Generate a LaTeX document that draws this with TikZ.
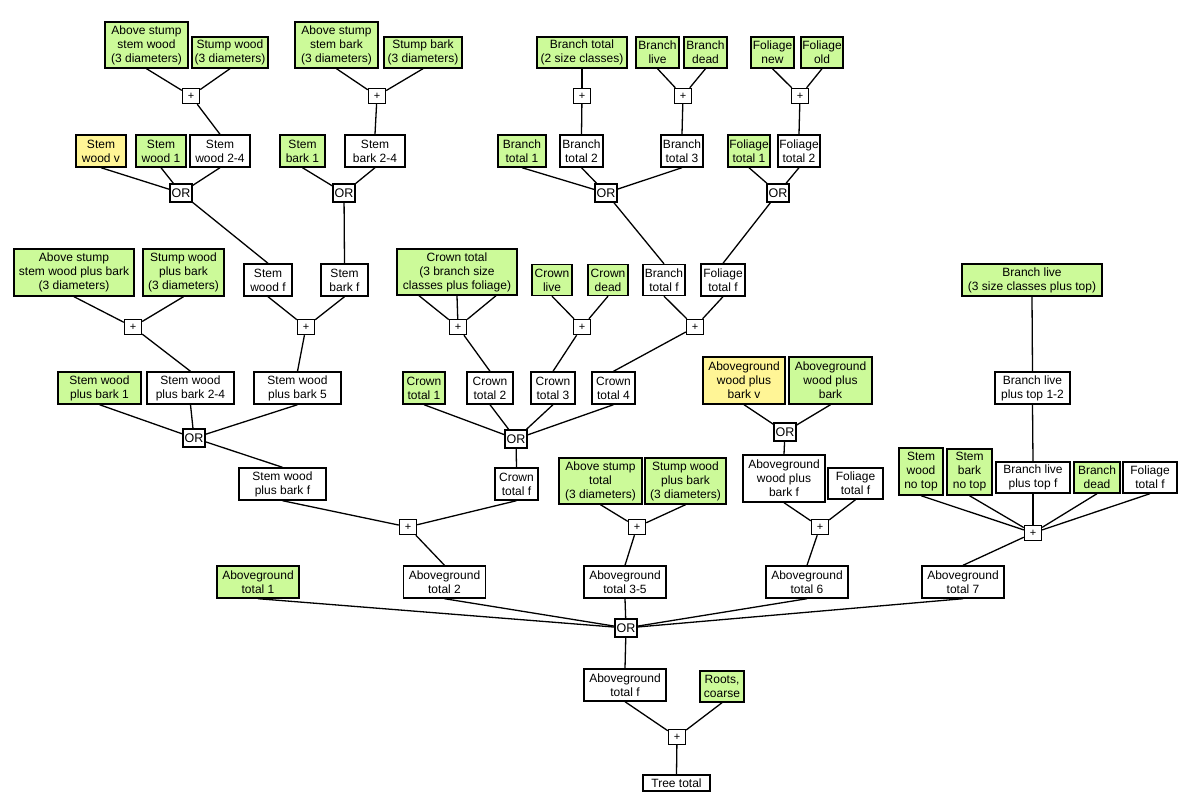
\documentclass[tikz,border=0pt]{standalone}
\usepackage{fontspec}
\setmainfont{Liberation Sans}
\definecolor{lgreen}{RGB}{204,250,153}
\definecolor{lyellow}{RGB}{255,245,150}
\tikzset{
 box/.style={draw=black, line width=1.4pt, align=center, inner sep=0pt, font=\fontsize{12}{14}\selectfont},
 gbox/.style={box, fill=lgreen},
 wbox/.style={box, fill=white},
 ybox/.style={box, fill=lyellow},
 sz/.style 2 args={minimum width=#1pt, minimum height=#2pt},
 opbox/.style={draw=black, line width=1.4pt, fill=white, inner sep=0pt, minimum width=17pt, minimum height=15pt, font=\fontsize{11}{11}\selectfont},
 orbox/.style={opbox, minimum width=22pt, minimum height=18pt, font=\fontsize{12.5}{12.5}\selectfont},
 link/.style={line width=1.3pt},
}
\begin{document}
\begin{tikzpicture}[x=1pt,y=-1pt]
\fill[white] (0,0) rectangle (1200,805);
\useasboundingbox (0,0) rectangle (1200,805);
% top row
\node[gbox, sz={83}{46}] (asw) at (146.5,45) {Above stump\\stem wood\\(3 diameters)};
\node[gbox, sz={76}{31}] (sw) at (230,52.5) {Stump wood\\(3 diameters)};
\node[gbox, sz={83}{46}] (asb) at (336.5,45) {Above stump\\stem bark\\(3 diameters)};
\node[gbox, sz={78}{31}] (sb) at (423,52.5) {Stump bark\\(3 diameters)};
\node[gbox, sz={90}{31}] (bt2s) at (582,52.5) {Branch total\\(2 size classes)};
\node[gbox, sz={43}{31}] (bl) at (657.5,52.5) {Branch\\live};
\node[gbox, sz={43}{31}] (bd) at (705.5,52.5) {Branch\\dead};
\node[gbox, sz={43}{31}] (fn) at (772.5,52.5) {Foliage\\new};
\node[gbox, sz={42}{31}] (fo) at (822,52.5) {Foliage\\old};
% + row 1
\node[opbox] (p1) at (191,96) {+};
\node[opbox] (p2) at (377,96) {+};
\node[opbox] (p3) at (582,96) {+};
\node[opbox] (p4) at (683,96) {+};
\node[opbox] (p5) at (800,96) {+};
% row 2
\node[ybox, sz={50}{32}] (swv) at (101,151) {Stem\\wood v};
\node[gbox, sz={50}{32}] (sw1) at (161,151) {Stem\\wood 1};
\node[wbox, sz={60}{32}] (sw24) at (220,151) {Stem\\wood 2-4};
\node[gbox, sz={45}{32}] (sb1) at (302.5,151) {Stem\\bark 1};
\node[wbox, sz={60}{32}] (sb24) at (375,151) {Stem\\bark 2-4};
\node[gbox, sz={48}{32}] (bt1) at (522,151) {Branch\\total 1};
\node[wbox, sz={43}{32}] (bt2) at (581.5,151) {Branch\\total 2};
\node[wbox, sz={42}{32}] (bt3) at (682,151) {Branch\\total 3};
\node[gbox, sz={42}{32}] (ft1) at (749,151) {Foliage\\total 1};
\node[wbox, sz={42}{32}] (ft2) at (799,151) {Foliage\\total 2};
% OR row 1
\node[orbox] (o1) at (181,193) {OR};
\node[orbox] (o2) at (344,193) {OR};
\node[orbox] (o3) at (606,193) {OR};
\node[orbox] (o4) at (778,193) {OR};
% row 3
\node[gbox, sz={120}{47}] (aswb) at (74,272.5) {Above stump\\stem wood plus bark\\(3 diameters)};
\node[gbox, sz={81}{47}] (swb) at (183.5,272.5) {Stump wood\\plus bark\\(3 diameters)};
\node[wbox, sz={48}{32}] (swf) at (268,280) {Stem\\wood f};
\node[wbox, sz={47}{32}] (sbf) at (344.5,280) {Stem\\bark f};
\node[gbox, sz={120}{46}] (ct) at (457,272) {Crown total\\(3 branch size\\classes plus foliage)};
\node[gbox, sz={40}{31}] (cl) at (552,280) {Crown\\live};
\node[gbox, sz={40}{31}] (cd) at (608,280) {Crown\\dead};
\node[wbox, sz={42}{31}] (btf) at (664,280) {Branch\\total f};
\node[wbox, sz={44}{32}] (ftf) at (723,280) {Foliage\\total f};
\node[gbox, sz={140}{32}] (blt) at (1032,280) {Branch live\\(3 size classes plus top)};
% + row 2
\node[opbox] (q1) at (133,327) {+};
\node[opbox] (q2) at (306,327) {+};
\node[opbox] (q3) at (458,327) {+};
\node[opbox] (q4) at (582,327) {+};
\node[opbox] (q5) at (695,327) {+};
% row 4
\node[gbox, sz={83}{32}] (swb1) at (99.5,388) {Stem wood\\plus bark 1};
\node[wbox, sz={87}{32}] (swb24) at (190.5,388) {Stem wood\\plus bark 2-4};
\node[wbox, sz={87}{32}] (swb5) at (297.5,388) {Stem wood\\plus bark 5};
\node[gbox, sz={42}{32}] (ct1) at (424,388) {Crown\\total 1};
\node[wbox, sz={46}{32}] (ct2) at (490,388) {Crown\\total 2};
\node[wbox, sz={44}{32}] (ct3) at (553,388) {Crown\\total 3};
\node[wbox, sz={43}{32}] (ct4) at (613.5,388) {Crown\\total 4};
\node[ybox, sz={82}{47}] (awv) at (744,380.5) {Aboveground\\wood plus\\bark v};
\node[gbox, sz={83}{47}] (awg) at (830.5,380.5) {Aboveground\\wood plus\\bark};
\node[wbox, sz={75}{32}] (bl12) at (1032.5,388) {Branch live\\plus top 1-2};
% OR row 2
\node[orbox] (o5) at (194,438) {OR};
\node[orbox] (o6) at (516,439) {OR};
\node[orbox] (o7) at (785,432) {OR};
% row 5
\node[wbox, sz={87}{32}] (swbf) at (282.5,484) {Stem wood\\plus bark f};
\node[wbox, sz={43}{32}] (ctf) at (516.5,484) {Crown\\total f};
\node[gbox, sz={83}{46}] (ast) at (600.5,481) {Above stump\\total\\(3 diameters)};
\node[gbox, sz={81}{46}] (swb3) at (685.5,481) {Stump wood\\plus bark\\(3 diameters)};
\node[wbox, sz={82}{47}] (awf) at (784,478.5) {Aboveground\\wood plus\\bark f};
\node[wbox, sz={55}{31}] (ftf2) at (855.5,483.5) {Foliage\\total f};
\node[gbox, sz={44}{47}] (swnt) at (921,471.5) {Stem\\wood\\no top};
\node[gbox, sz={45}{46}] (sbnt) at (969.5,472) {Stem\\bark\\no top};
\node[wbox, sz={74}{31}] (bltf) at (1033,477.5) {Branch live\\plus top f};
\node[gbox, sz={46}{31}] (bd2) at (1097,477.5) {Branch\\dead};
\node[wbox, sz={54}{31}] (ftf3) at (1150,477.5) {Foliage\\total f};
% + row 3
\node[opbox] (r1) at (408,527) {+};
\node[opbox] (r2) at (637,527) {+};
\node[opbox] (r3) at (820,527) {+};
\node[opbox] (r4) at (1033,533) {+};
% row 6
\node[gbox, sz={82}{32}] (at1) at (258,582) {Aboveground\\total 1};
\node[wbox, sz={82}{32}] (at2) at (444.5,582) {Aboveground\\total 2};
\node[wbox, sz={82}{32}] (at35) at (625,582) {Aboveground\\total 3-5};
\node[wbox, sz={82}{32}] (at6) at (807,582) {Aboveground\\total 6};
\node[wbox, sz={82}{32}] (at7) at (963,582) {Aboveground\\total 7};
\node[orbox] (o8) at (626,628) {OR};
\node[wbox, sz={82}{32}] (atf) at (625,685) {Aboveground\\total f};
\node[gbox, sz={44}{31}] (rc) at (722,686.5) {Roots,\\coarse};
\node[opbox] (s1) at (677,737) {+};
\node[wbox, sz={67}{16}] (tt) at (676.5,783) {Tree total};
% links
\begin{scope}[link]
\draw (asw.south) -- (p1); \draw (sw.south) -- (p1); \draw (p1) -- (sw24.north);
\draw (asb.south) -- (p2); \draw (sb.south) -- (p2); \draw (p2) -- (sb24.north);
\draw (bt2s.south) -- (p3); \draw (p3) -- (bt2.north);
\draw (bl.south) -- (p4); \draw (bd.south) -- (p4); \draw (p4) -- (bt3.north);
\draw (fn.south) -- (p5); \draw (fo.south) -- (p5); \draw (p5) -- (ft2.north);
\draw (swv.south) -- (o1); \draw (sw1.south) -- (o1); \draw (sw24.south) -- (o1); \draw (o1) -- (swf.north);
\draw (sb1.south) -- (o2); \draw (sb24.south) -- (o2); \draw (o2) -- (sbf.north);
\draw (bt1.south) -- (o3); \draw (bt2.south) -- (o3); \draw (bt3.south) -- (o3); \draw (o3) -- (btf.north);
\draw (ft1.south) -- (o4); \draw (ft2.south) -- (o4); \draw (o4) -- (ftf.north);
\draw (aswb.south) -- (q1); \draw (swb.south) -- (q1); \draw (q1) -- (swb24.north);
\draw (swf.south) -- (q2); \draw (sbf.south) -- (q2); \draw (q2) -- (swb5.north);
\draw ([xshift=-38pt]ct.south) -- (q3); \draw (ct.south) -- (q3); \draw ([xshift=39pt]ct.south) -- (q3); \draw (q3) -- (ct2.north);
\draw (cl.south) -- (q4); \draw (cd.south) -- (q4); \draw (q4) -- (ct3.north);
\draw (btf.south) -- (q5); \draw (ftf.south) -- (q5); \draw (q5) -- (ct4.north);
\draw (blt.south) -- (bl12.north); \draw (bl12.south) -- (bltf.north);
\draw (swb1.south) -- (o5); \draw (swb24.south) -- (o5); \draw (swb5.south) -- (o5); \draw (o5) -- (swbf.north);
\draw (ct1.south) -- (o6); \draw (ct2.south) -- (o6); \draw (ct3.south) -- (o6); \draw (ct4.south) -- (o6); \draw (o6) -- (ctf.north);
\draw (awv.south) -- (o7); \draw (awg.south) -- (o7); \draw (o7) -- (awf.north);
\draw (swbf.south) -- (r1); \draw (ctf.south) -- (r1); \draw (r1) -- (at2.north);
\draw (ast.south) -- (r2); \draw (swb3.south) -- (r2); \draw (r2) -- (at35.north);
\draw (awf.south) -- (r3); \draw (ftf2.south) -- (r3); \draw (r3) -- (at6.north);
\draw (swnt.south) -- (r4); \draw (sbnt.south) -- (r4); \draw (bltf.south) -- (r4); \draw (bd2.south) -- (r4); \draw (ftf3.south) -- (r4); \draw (r4) -- (at7.north);
\draw (at1.south) -- (o8); \draw (at2.south) -- (o8); \draw (at35.south) -- (o8); \draw (at6.south) -- (o8); \draw (at7.south) -- (o8); \draw (o8) -- (atf.north);
\draw (atf.south) -- (s1); \draw (rc.south) -- (s1); \draw (s1) -- (tt.north);
\end{scope}
\end{tikzpicture}
\end{document}
